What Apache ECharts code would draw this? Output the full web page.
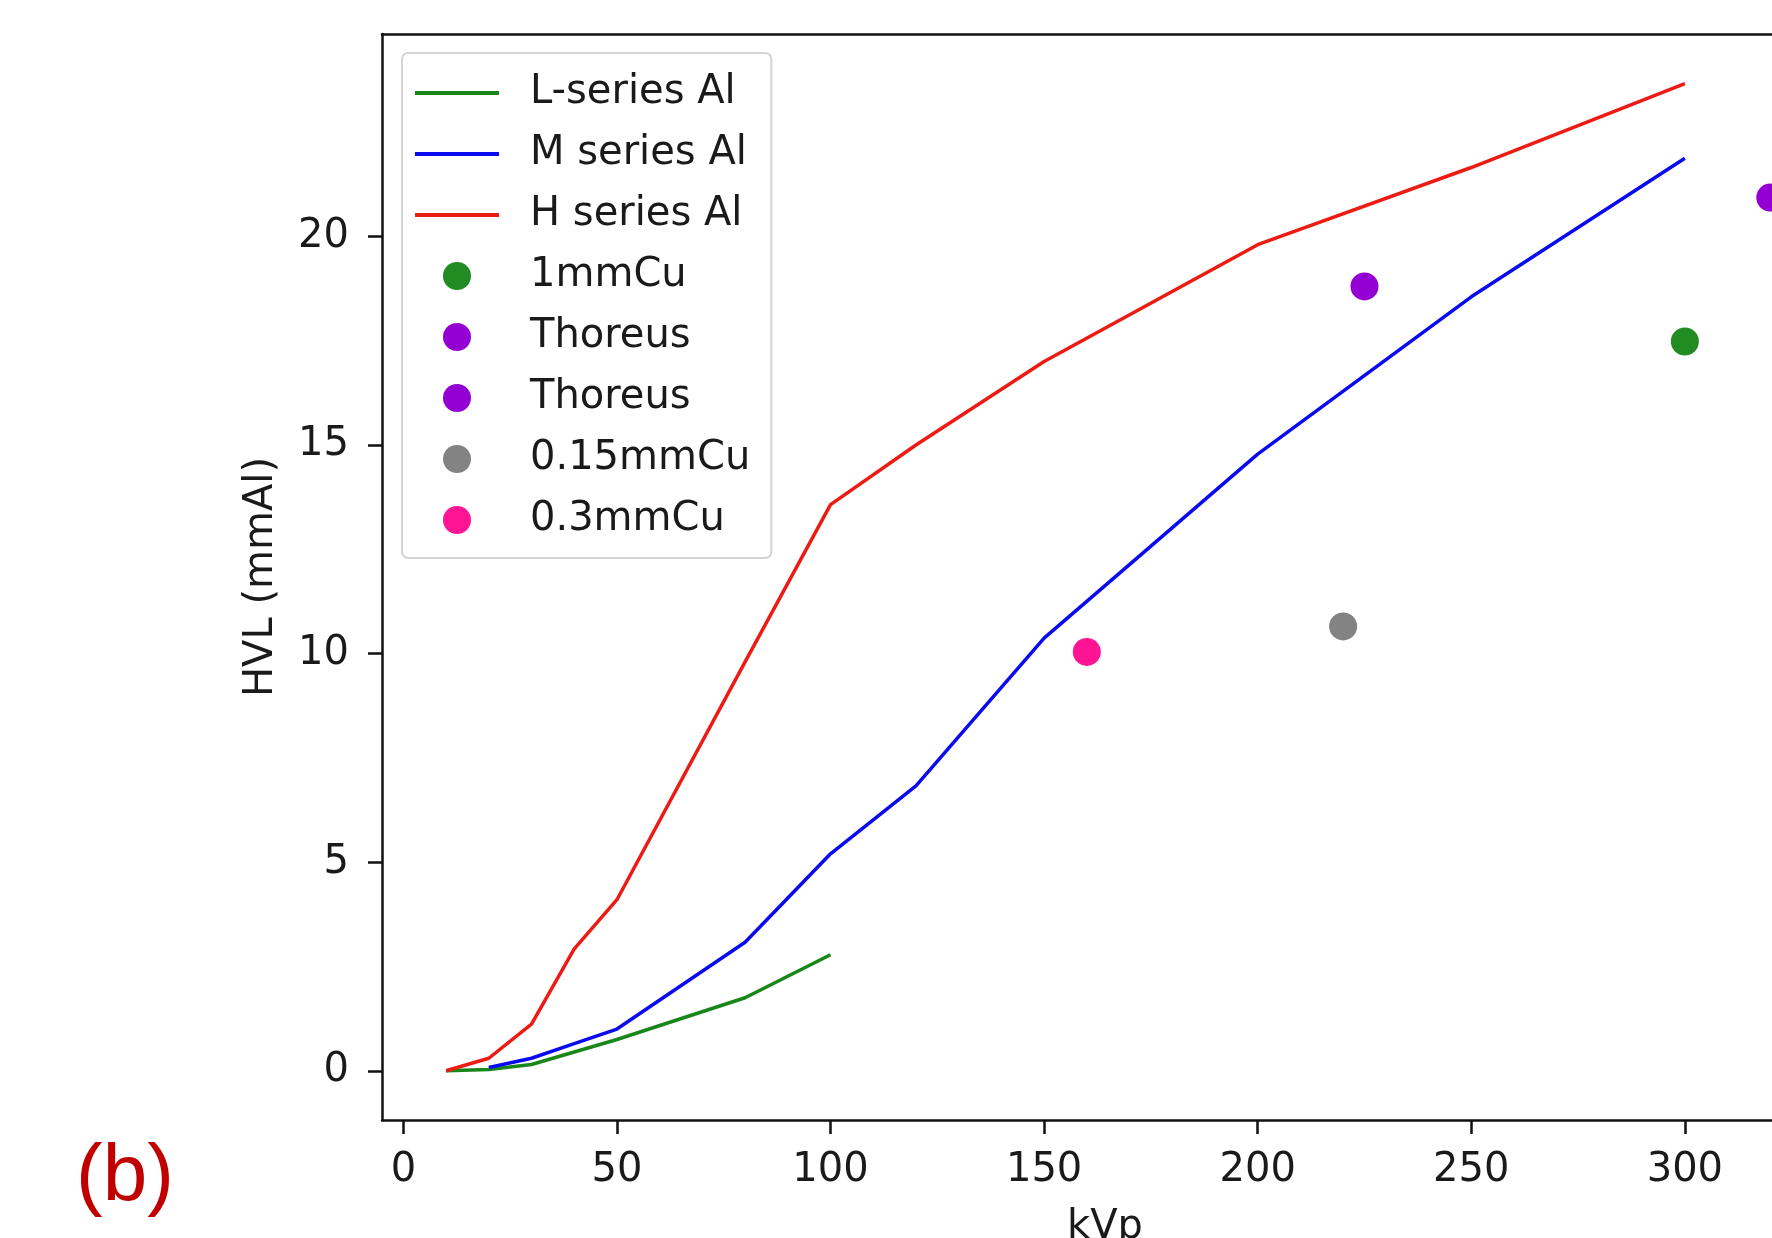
<!DOCTYPE html>
<html>
<head>
<meta charset="utf-8">
<title>HVL vs kVp</title>
<script src="https://cdn.jsdelivr.net/npm/echarts@6.0.0/dist/echarts.min.js"></script>
<style>
  html, body { margin: 0; padding: 0; background: #ffffff; }
  #chart { width: 1772px; height: 1238px; }
</style>
</head>
<body>
<div id="chart"></div>
<script>
  // 读图数据 (kVp -> HVL mmAl)
  let lKvp = [10, 20, 30, 40, 50, 80, 100];
  let lHvl = [0, 0.03, 0.15, 0.45, 0.75, 1.75, 2.78];

  let mKvp = [20, 30, 40, 50, 80, 100, 120, 150, 200, 250, 300];
  let mHvl = [0.08, 0.3, 0.65, 1.0, 3.08, 5.2, 6.83, 10.37, 14.78, 18.55, 21.87];

  let hKvp = [10, 20, 30, 40, 50, 80, 100, 120, 150, 200, 250, 300];
  let hHvl = [0, 0.3, 1.12, 2.92, 4.1, 9.8, 13.57, 15.0, 17.0, 19.8, 21.65, 23.66];

  // 单点测量
  let cu1 = [[300, 17.48]];
  let thoreusA = [[225, 18.8]];
  let thoreusB = [[320, 20.93]];
  let cu015 = [[220, 10.65]];
  let cu03 = [[160, 10.04]];

  let xTicks = [0, 50, 100, 150, 200, 250, 300];
  let yTicks = [0, 5, 10, 15, 20];

  let font = 'DejaVu Sans';
  let textColor = '#1a1a1a';
  let spine = {color: '#111111', width: 2.5};
  // 图例里的线段图标
  let lineIcon = 'path://M0,0 L84,0 L84,4 L0,4 Z';

  function pairs(xs, ys) {
    let out = [];
    for (let i = 0; i < xs.length; i++) {
      out.push([xs[i], ys[i]]);
    }
    return out;
  }

  let lineDefa = {
    type: 'line',
    smooth: false,
    symbol: 'none',
    showSymbol: false,
    z: 2
  };

  function lineSeries(name, color, data) {
    return Object.assign({}, lineDefa, {
      name: name,
      data: data,
      itemStyle: {color: color},
      lineStyle: {color: color, width: 3.5}
    });
  }

  function dotSeries(name, color, data) {
    return {
      name: name,
      type: 'scatter',
      symbol: 'circle',
      symbolSize: 28,
      clip: false,
      z: 3,
      itemStyle: {color: color, opacity: 1},
      data: data
    };
  }

  let chart = echarts.init(document.getElementById('chart'));

  let options = {
    backgroundColor: '#ffffff',
    animation: false,
    grid: {
      left: 382,
      right: 0,
      top: 34,
      bottom: 118,
      show: false,
      outerBoundsMode: 'none',
      containLabel: false
    },
    legend: {
      orient: 'vertical',
      left: 402,
      top: 53,
      padding: [20, 21, 18, 13],
      itemWidth: 84,
      itemHeight: 28,
      itemGap: 21,
      backgroundColor: 'rgba(255,255,255,0.85)',
      borderColor: '#d4d4d4',
      borderWidth: 2,
      borderRadius: 6,
      formatter: function (name) {
        return name.trim();
      },
      textStyle: {
        fontFamily: font,
        fontSize: 40,
        color: textColor,
        padding: [0, 0, 0, 26]
      },
      data: [
        {name: 'L-series Al', icon: lineIcon},
        {name: 'M series Al', icon: lineIcon},
        {name: 'H series Al', icon: lineIcon},
        '1mmCu', 'Thoreus', 'Thoreus ', '0.15mmCu', '0.3mmCu'
      ]
    },
    xAxis: [{
      type: 'value',
      position: 'bottom',
      min: -5,
      max: 320.4,
      name: 'kVp',
      nameLocation: 'middle',
      nameGap: 88,
      // 原图坐标区向右超出画面, 标题中心随之右移
      nameTextStyle: {fontFamily: font, fontSize: 40, color: textColor, padding: [0, 0, 0, 56]},
      axisLine: {show: true, onZero: false, lineStyle: spine},
      axisTick: {show: true, length: 14, lineStyle: spine, customValues: xTicks},
      axisLabel: {customValues: xTicks, margin: 31, fontFamily: font, fontSize: 40, color: textColor},
      splitLine: {show: false}
    }, {
      // 上边框
      type: 'value',
      position: 'top',
      min: -5,
      max: 320.4,
      axisLine: {show: true, onZero: false, lineStyle: spine},
      axisTick: {show: false},
      axisLabel: {show: false},
      splitLine: {show: false}
    }],
    yAxis: {
      type: 'value',
      min: -1.18,
      max: 24.85,
      name: 'HVL (mmAl)',
      nameLocation: 'middle',
      nameGap: 100,
      nameTextStyle: {fontFamily: font, fontSize: 40, color: textColor},
      axisLine: {show: true, onZero: false, lineStyle: spine},
      axisTick: {show: true, length: 14, lineStyle: spine, customValues: yTicks},
      axisLabel: {customValues: yTicks, margin: 33, fontFamily: font, fontSize: 40, color: textColor},
      splitLine: {show: false}
    },
    graphic: [{
      type: 'text',
      left: 76,
      top: 1138,
      style: {
        text: '(b)',
        font: '80px "Liberation Sans", Arial, sans-serif',
        fill: '#c00000'
      }
    }],
    series: [
      lineSeries('L-series Al', '#17871a', pairs(lKvp, lHvl)),
      lineSeries('M series Al', '#0a0aef', pairs(mKvp, mHvl)),
      lineSeries('H series Al', '#ec1c14', pairs(hKvp, hHvl)),
      dotSeries('1mmCu', '#228b22', cu1),
      dotSeries('Thoreus', '#9400d3', thoreusA),
      dotSeries('Thoreus ', '#9400d3', thoreusB),
      dotSeries('0.15mmCu', '#838383', cu015),
      dotSeries('0.3mmCu', '#ff1493', cu03)
    ]
  };

  chart.setOption(options);
</script>
</body>
</html>
